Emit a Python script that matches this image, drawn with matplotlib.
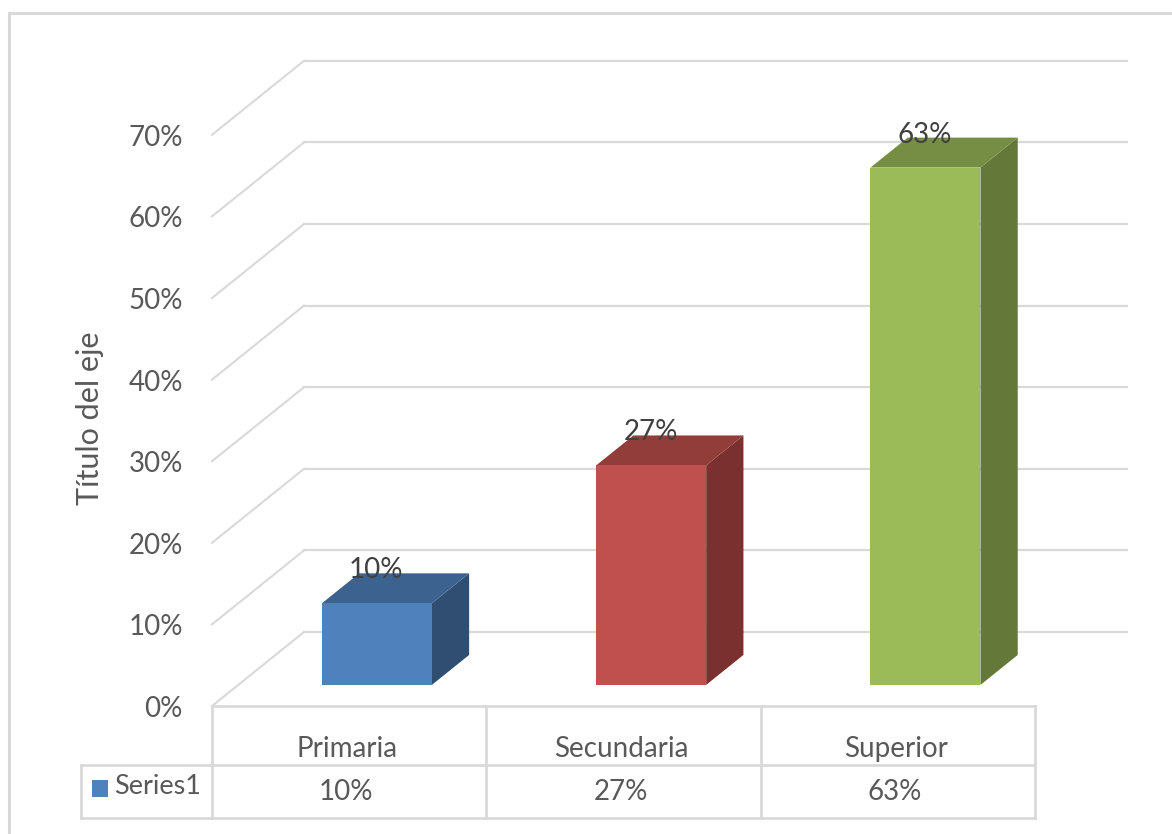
import matplotlib
matplotlib.use('Agg')
import matplotlib.pyplot as plt
from matplotlib.patches import Polygon

categories = ['Primaria', 'Secundaria', 'Superior']
values = [10.0, 26.9, 63.4]
y_ticks = [0, 10, 20, 30, 40, 50, 60, 70]
series_name = 'Series1'
axis_title = 'Título del eje'

front_colors = ['#4f81bd', '#c0504d', '#9bbb59']
top_colors = ['#3c6390', '#933d3b', '#768e44']
side_colors = ['#2f4e72', '#7a302e', '#64783a']
grid = '#d9d9d9'
text_c = '#595959'

plt.rcParams['font.family'] = ['Lato', 'DejaVu Sans']

W, H = 1172, 834
fig = plt.figure(figsize=(W / 100, H / 100), dpi=100)
ax = fig.add_axes([0, 0, 1, 1])

# 1 category = 274.3 px, 1 percent = 8.16 px, origin at pixel (212, 706)
cat_px = 274.3
pct_px = 8.16
ax.set_xlim(-212 / cat_px, (W - 212) / cat_px)
ax.set_ylim((706 - H) / pct_px, 706 / pct_px)
ax.axis('off')

# depth of the 3d box
DX = 92 / cat_px
DY = 74 / pct_px
FS = 20


def pos(x, v, d=0.0):
    return (x + d * DX, v + d * DY)


def px(n):
    return n / cat_px


def py(n):
    return n / pct_px


# outer frame
ax.plot([px(9 - 212), px(9 - 212)], [py(-128), py(693)], color=grid, lw=2.2)
ax.plot([px(9 - 212), px(W - 212)], [py(693), py(693)], color=grid, lw=2.2)

# walls
for t in y_ticks:
    a = pos(0, t, 0)
    b = pos(0, t, 1)
    c = pos(3, t, 1)
    ax.plot([a[0], b[0]], [a[1], b[1]], color=grid, lw=1.5)
    ax.plot([b[0], c[0]], [b[1], c[1]], color=grid, lw=1.6)
    ax.text(px(-29), t - py(3), f'{t}%', ha='right', va='center', fontsize=FS, color=text_c)

# bars
d0, d1 = 0.285, 0.69
bar_w = 110 / cat_px
for i, v in enumerate(values):
    left = i + 0.5 - bar_w / 2 + px(1.5)
    right = i + 0.5 + bar_w / 2 + px(1.5)
    front = [pos(left, 0, d0), pos(right, 0, d0), pos(right, v, d0), pos(left, v, d0)]
    top = [pos(left, v, d0), pos(right, v, d0), pos(right, v, d1), pos(left, v, d1)]
    side = [pos(right, 0, d0), pos(right, 0, d1), pos(right, v, d1), pos(right, v, d0)]
    ax.add_patch(Polygon(side, closed=True, fc=side_colors[i], ec='none', zorder=3))
    ax.add_patch(Polygon(top, closed=True, fc=top_colors[i], ec='none', zorder=3))
    ax.add_patch(Polygon(front, closed=True, fc=front_colors[i], ec='none', zorder=4))
    cx, cy = pos(i + 0.5, v, d0)
    ax.text(cx + px(1), cy + py(33), f'{v:.0f}%', ha='center', va='center', fontsize=FS, color='#404040', zorder=5)

# data table
row1 = py(-59)
row2 = py(-112)
ax.plot([0, 3], [0, 0], color=grid, lw=2)
ax.plot([px(81 - 212), 3], [row1, row1], color=grid, lw=2)
ax.plot([px(81 - 212), 3], [row2, row2], color=grid, lw=2)
ax.plot([px(81 - 212)] * 2, [row1, row2], color=grid, lw=2)
for i in range(4):
    ax.plot([i, i], [0, row2], color=grid, lw=2)
for i, c in enumerate(categories):
    ax.text(i + 0.5 - px(2), py(-43), c, ha='center', va='center', fontsize=FS, color=text_c)
    ax.text(i + 0.5 - px(3), py(-86), f'{values[i]:.0f}%', ha='center', va='center', fontsize=FS, color=text_c)

# legend key in table
ax.add_patch(Polygon([(px(92 - 212), py(-74)), (px(108 - 212), py(-74)),
                      (px(108 - 212), py(-91)), (px(92 - 212), py(-91))],
                     closed=True, fc=front_colors[0], ec='none'))
ax.text(px(114 - 212), py(-81), series_name, ha='left', va='center', fontsize=FS - 0.5, color=text_c)

ax.text(px(90 - 212), py(706 - 418), axis_title, rotation=90, ha='center', va='center',
        fontsize=22, color=text_c)

fig.savefig('out.png', dpi=100)
